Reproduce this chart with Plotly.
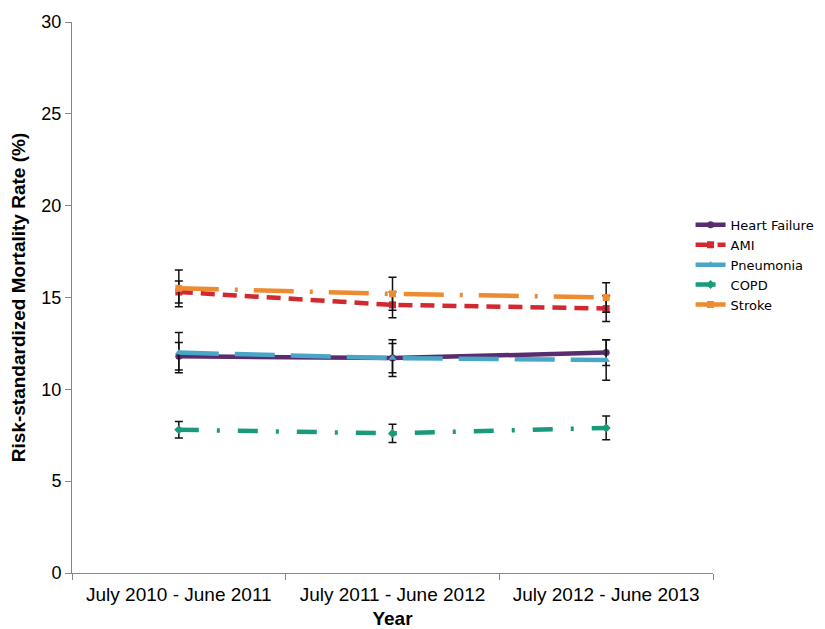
import plotly.graph_objects as go

years = ["July 2010 - June 2011", "July 2011 - June 2012", "July 2012 - June 2013"]

heart_failure = [11.8, 11.7, 12.0]
heart_failure_err = [0.75, 0.8, 0.7]
ami = [15.3, 14.6, 14.4]
ami_err = [0.6, 0.7, 0.7]
pneumonia = [12.0, 11.7, 11.6]
pneumonia_err = [1.1, 1.0, 1.1]
copd = [7.8, 7.6, 7.9]
copd_err = [0.45, 0.5, 0.65]
stroke = [15.5, 15.2, 15.0]
stroke_err = [1.0, 0.9, 0.8]

series = [
    ("Heart Failure", heart_failure, heart_failure_err, "#582C6E", "solid", "circle"),
    ("AMI", ami, ami_err, "#D2282F", "14px,8px", "square"),
    ("Pneumonia", pneumonia, pneumonia_err, "#4AA6C6", "40px,16px", "triangle-up"),
    ("COPD", copd, copd_err, "#1A9A7A", "20px,18px,3px,18px", "diamond"),
    ("Stroke", stroke, stroke_err, "#EE8A2F", "40px,16px,3px,16px", "square"),
]

fig = go.Figure()
for name, vals, err, color, dash, sym in series:
    fig.add_trace(go.Scatter(
        x=years, y=vals, name=name, mode="lines+markers",
        line=dict(color=color, width=4.5, dash=dash),
        marker=dict(symbol=sym, size=7, color=color),
        error_y=dict(type="data", array=err, visible=True, color="#111111",
                     thickness=1.5, width=4),
    ))

fig.update_layout(
    width=817, height=621,
    paper_bgcolor="white", plot_bgcolor="white",
    margin=dict(l=64, r=112, t=14, b=56, autoexpand=False),
    font=dict(family="Liberation Sans, Arial, sans-serif", color="#000000"),
    legend=dict(x=0.965, y=0.659, xanchor="left", yanchor="top",
                font=dict(size=13, family="DejaVu Sans, sans-serif"),
                tracegroupgap=0, itemwidth=30,
                bgcolor="rgba(0,0,0,0)"),
    showlegend=True,
)
fig.update_xaxes(
    type="category", range=[-0.5, 2.5], tickson="boundaries", automargin=False,
    showline=True, linecolor="#868686", linewidth=1,
    ticks="outside", ticklen=6, tickcolor="#868686", ticklabelstandoff=4,
    showgrid=False, tickfont=dict(size=19),
    title=dict(text="<b>Year</b>", font=dict(size=19), standoff=9),
)
fig.update_yaxes(
    range=[0, 30], dtick=5, showline=True, linecolor="#868686", linewidth=1,
    automargin=False,
    ticks="outside", ticklen=6, tickcolor="#868686",
    showgrid=False, zeroline=False, tickfont=dict(size=18),
    title=dict(text="<b>Risk-standardized Mortality Rate (%)</b>", font=dict(size=19), standoff=10),
)

fig.write_html("out.html")
